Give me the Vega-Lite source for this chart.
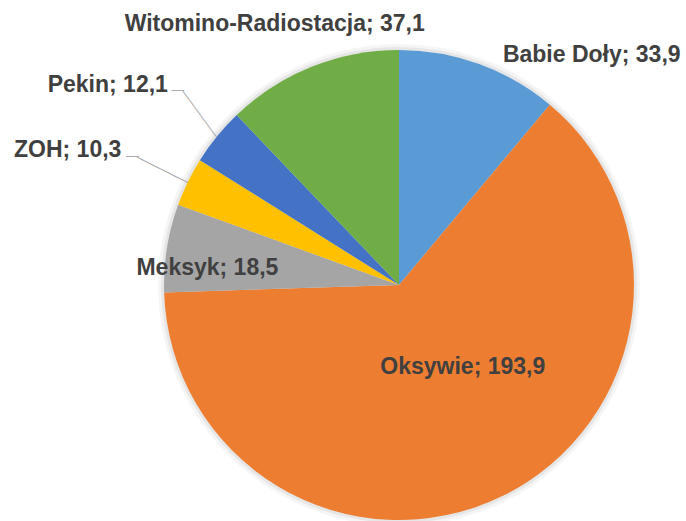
{
  "$schema": "https://vega.github.io/schema/vega-lite/v6.json",
  "width": 470,
  "height": 470,
  "autosize": "none",
  "padding": {"left": 164, "top": 50, "right": 52, "bottom": 1},
  "background": "white",
  "view": {"stroke": null},
  "data": {
    "values": [
      {"region": "Babie Doły", "value": 33.9, "ord": 1, "label": "Babie Doły; 33,9"},
      {"region": "Oksywie", "value": 193.9, "ord": 2, "label": "Oksywie; 193,9"},
      {"region": "Meksyk", "value": 18.5, "ord": 3, "label": "Meksyk; 18,5"},
      {"region": "ZOH", "value": 10.3, "ord": 4, "label": "ZOH; 10,3"},
      {"region": "Pekin", "value": 12.1, "ord": 5, "label": "Pekin; 12,1"},
      {"region": "Witomino-Radiostacja", "value": 37.1, "ord": 6, "label": "Witomino-Radiostacja; 37,1"}
    ]
  },
  "encoding": {
    "theta": {"field": "value", "type": "quantitative", "stack": true},
    "order": {"field": "ord", "type": "quantitative"}
  },
  "layer": [
    {
      "mark": {"type": "arc", "outerRadius": 241, "fill": "#000000", "opacity": 0.04},
      "encoding": {"detail": {"field": "region"}}
    },
    {
      "mark": {"type": "arc", "outerRadius": 238, "fill": "#000000", "opacity": 0.06},
      "encoding": {"detail": {"field": "region"}}
    },
    {
      "mark": {"type": "arc", "outerRadius": 235},
      "encoding": {
        "color": {
          "field": "region",
          "type": "nominal",
          "scale": {
            "domain": ["Babie Doły", "Oksywie", "Meksyk", "ZOH", "Pekin", "Witomino-Radiostacja"],
            "range": ["#5B9BD5", "#ED7D31", "#A5A5A5", "#FFC000", "#4472C4", "#70AD47"]
          },
          "legend": null
        }
      }
    },
    {
      "mark": {"type": "text", "radius": 235, "angle": 233.6, "align": "left", "baseline": "middle", "font": "DejaVu Sans Mono", "fontSize": 10.45, "fill": "#A6A6A6"},
      "encoding": {
        "detail": {"field": "region"},
        "text": {"condition": {"test": "datum.region === 'Pekin'", "value": "─────────"}, "value": ""}
      }
    },
    {
      "mark": {"type": "text", "radius": 235, "angle": 206.5, "align": "left", "baseline": "middle", "font": "DejaVu Sans Mono", "fontSize": 10.45, "fill": "#A6A6A6"},
      "encoding": {
        "detail": {"field": "region"},
        "text": {"condition": {"test": "datum.region === 'ZOH'", "value": "─────────"}, "value": ""}
      }
    },
    {
      "mark": {"type": "text", "radius": 306, "dx": 9.7, "dy": -0.7, "align": "left", "baseline": "middle", "font": "DejaVu Sans Mono", "fontSize": 10.45, "fill": "#A6A6A6"},
      "encoding": {
        "detail": {"field": "region"},
        "text": {"condition": {"test": "datum.region === 'Pekin'", "value": "──"}, "value": ""}
      }
    },
    {
      "mark": {"type": "text", "radius": 300, "dx": -3.4, "dy": 3.8, "align": "left", "baseline": "middle", "font": "DejaVu Sans Mono", "fontSize": 10.45, "fill": "#A6A6A6"},
      "encoding": {
        "detail": {"field": "region"},
        "text": {"condition": {"test": "datum.region === 'ZOH'", "value": "──"}, "value": ""}
      }
    },
    {
      "mark": {"type": "text", "radius": 275, "dx": -22, "dy": 1, "align": "center", "baseline": "alphabetic", "font": "Liberation Sans", "fontWeight": "bold", "fontSize": 23, "fill": "#404040"},
      "encoding": {
        "detail": {"field": "region"},
        "text": {"condition": {"test": "datum.region === 'Witomino-Radiostacja'", "field": "label"}, "value": ""}
      }
    },
    {
      "mark": {"type": "text", "radius": 237, "dx": 23, "dy": 0, "align": "left", "baseline": "alphabetic", "font": "Liberation Sans", "fontWeight": "bold", "fontSize": 23, "fill": "#404040"},
      "encoding": {
        "detail": {"field": "region"},
        "text": {"condition": {"test": "datum.region === 'Babie Doły'", "field": "label"}, "value": ""}
      }
    },
    {
      "mark": {"type": "text", "radius": 306, "dx": 6, "dy": 0, "align": "right", "baseline": "alphabetic", "font": "Liberation Sans", "fontWeight": "bold", "fontSize": 23, "fill": "#404040"},
      "encoding": {
        "detail": {"field": "region"},
        "text": {"condition": {"test": "datum.region === 'Pekin'", "field": "label"}, "value": ""}
      }
    },
    {
      "mark": {"type": "text", "radius": 300, "dx": -8, "dy": 3.5, "align": "right", "baseline": "alphabetic", "font": "Liberation Sans", "fontWeight": "bold", "fontSize": 23, "fill": "#404040"},
      "encoding": {
        "detail": {"field": "region"},
        "text": {"condition": {"test": "datum.region === 'ZOH'", "field": "label"}, "value": ""}
      }
    },
    {
      "mark": {"type": "text", "radius": 192, "dx": -2, "dy": 20, "align": "center", "baseline": "alphabetic", "font": "Liberation Sans", "fontWeight": "bold", "fontSize": 23, "fill": "#404040"},
      "encoding": {
        "detail": {"field": "region"},
        "text": {"condition": {"test": "datum.region === 'Meksyk'", "field": "label"}, "value": ""}
      }
    },
    {
      "mark": {"type": "text", "radius": 100, "dx": 20, "dy": -1, "align": "center", "baseline": "alphabetic", "font": "Liberation Sans", "fontWeight": "bold", "fontSize": 23, "fill": "#404040"},
      "encoding": {
        "detail": {"field": "region"},
        "text": {"condition": {"test": "datum.region === 'Oksywie'", "field": "label"}, "value": ""}
      }
    }
  ]
}
